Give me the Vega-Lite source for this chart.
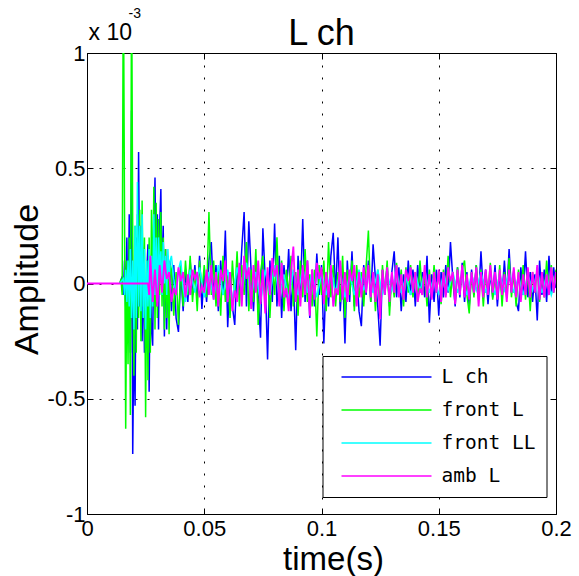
{
"$schema":"https://vega.github.io/schema/vega-lite/v6.json",
"width":469,"height":461,
"autosize":{"type":"none"},
"padding":{"left":87,"top":53,"right":23,"bottom":62},
"background":"white",
"title":{"text":"L ch","font":"Liberation Sans","fontSize":36,"fontWeight":"normal","color":"black","anchor":"middle","offset":10,"dy":57},
"config":{
 "view":{"stroke":"black","strokeWidth":1},
 "axis":{"domain":false,"tickColor":"black","tickSize":-6,"labelColor":"black","labelFont":"Liberation Sans","labelFontSize":22,"titleColor":"black","titleFont":"Liberation Sans","titleFontWeight":"normal","gridColor":"black","gridDash":[2,10],"gridOpacity":1,"labelFlush":false,"labelOverlap":false},
 "legend":{"orient":"none","legendX":235.5,"legendY":303,"direction":"vertical","title":null,"strokeColor":"black","fillColor":"white","padding":11,"symbolType":"stroke","symbolSize":8100,"symbolStrokeWidth":1.5,"symbolOffset":7,"labelOffset":9,"labelFont":"DejaVu Sans Mono","labelFontSize":19.5,"labelColor":"black","clipHeight":20,"rowPadding":13,"cornerRadius":0}
},
"datasets":{
"lch":[{"t":0.014,"v":0},{"t":0.015,"v":0.03},{"t":0.0155,"v":-0.05},{"t":0.016,"v":0.1},{"t":0.0165,"v":-0.1},{"t":0.017,"v":0.2},{"t":0.0175,"v":-0.2},{"t":0.018,"v":0.3},{"t":0.0185,"v":-0.3},{"t":0.019,"v":0.75},{"t":0.0195,"v":-0.74},{"t":0.02,"v":-0.2},{"t":0.0205,"v":-0.53},{"t":0.021,"v":0.2},{"t":0.0215,"v":-0.2},{"t":0.022,"v":0.57},{"t":0.0225,"v":-0.1},{"t":0.023,"v":0.25},{"t":0.0235,"v":-0.25},{"t":0.024,"v":0.1},{"t":0.0245,"v":-0.3},{"t":0.025,"v":-0.2},{"t":0.0255,"v":0.05},{"t":0.026,"v":0.17},{"t":0.0265,"v":-0.47},{"t":0.027,"v":0.1},{"t":0.0275,"v":-0.2},{"t":0.028,"v":-0.27},{"t":0.0285,"v":0.2},{"t":0.029,"v":0.46},{"t":0.0295,"v":-0.1},{"t":0.03,"v":0.3},{"t":0.0305,"v":-0.2},{"t":0.031,"v":0.25},{"t":0.0315,"v":0.41},{"t":0.032,"v":-0.05},{"t":0.0325,"v":0.25},{"t":0.033,"v":-0.23},{"t":0.0335,"v":0.15},{"t":0.034,"v":-0.2},{"t":0.0345,"v":0.12},{"t":0.035,"v":-0.15},{"t":0.0355,"v":0.1},
{"t":0.036,"v":-0.12},{"t":0.037,"v":0.08},{"t":0.038,"v":-0.15},{"t":0.039,"v":-0.21},{"t":0.04,"v":0.05},{"t":0.041,"v":-0.12},{"t":0.042,"v":0.06},{"t":0.043,"v":-0.08},{"t":0.044,"v":0.1},{"t":0.045,"v":-0.05},{"t":0.046,"v":0.08},{"t":0.047,"v":-0.06},{"t":0.048,"v":0.12},{"t":0.049,"v":-0.11},{"t":0.05,"v":0.05},{"t":0.051,"v":-0.08},{"t":0.052,"v":0.1},{"t":0.053,"v":0.18},{"t":0.054,"v":-0.06},{"t":0.055,"v":0.08},{"t":0.056,"v":-0.12},{"t":0.057,"v":0.1},{"t":0.058,"v":-0.05},{"t":0.059,"v":0.23},{"t":0.06,"v":-0.19},{"t":0.061,"v":0.05},{"t":0.062,"v":-0.1},{"t":0.063,"v":-0.18},{"t":0.064,"v":0.08},{"t":0.065,"v":-0.05},{"t":0.066,"v":0.15},{"t":0.067,"v":0.31},{"t":0.068,"v":-0.1},{"t":0.069,"v":0.27},{"t":0.07,"v":0.05},{"t":0.071,"v":-0.12},{"t":0.072,"v":0.1},{"t":0.073,"v":-0.05},{"t":0.074,"v":-0.235},{"t":0.075,"v":0.24},{"t":0.076,"v":0.02},{"t":0.077,"v":-0.33},{"t":0.078,"v":0.1},{"t":0.079,"v":-0.08},{"t":0.08,"v":0.26},{"t":0.081,"v":-0.1},{"t":0.082,"v":0.12},{"t":0.083,"v":-0.15},{"t":0.084,"v":0.08},{"t":0.085,"v":-0.06},{"t":0.086,"v":0.15},{"t":0.087,"v":-0.12},{"t":0.088,"v":0.05},{"t":0.089,"v":-0.29},{"t":0.09,"v":0.12},{"t":0.091,"v":-0.05},{"t":0.092,"v":0.28},{"t":0.093,"v":-0.08},{"t":0.094,"v":0.1},{"t":0.095,"v":-0.15},{"t":0.096,"v":0.06},{"t":0.097,"v":-0.1},{"t":0.098,"v":0.13},{"t":0.099,"v":-0.05},{"t":0.1,"v":0.08},{"t":0.101,"v":-0.26},{"t":0.102,"v":0.05},{"t":0.103,"v":-0.1},{"t":0.104,"v":0.12},{"t":0.105,"v":0.22},{"t":0.106,"v":-0.05},{"t":0.107,"v":0.2},{"t":0.108,"v":-0.12},{"t":0.109,"v":0.06},{"t":0.11,"v":-0.26},{"t":0.111,"v":0.1},{"t":0.112,"v":-0.08},{"t":0.113,"v":0.14},{"t":0.114,"v":-0.1},{"t":0.115,"v":0.05},{"t":0.116,"v":-0.12},{"t":0.117,"v":-0.185},{"t":0.118,"v":0.08},{"t":0.119,"v":-0.05},{"t":0.12,"v":0.1},{"t":0.121,"v":-0.08},{"t":0.122,"v":0.17},{"t":0.123,"v":0.02},{"t":0.124,"v":-0.1},{"t":0.125,"v":-0.27},{"t":0.126,"v":0.06},{"t":0.127,"v":-0.05},{"t":0.128,"v":0.08},{"t":0.129,"v":-0.1},{"t":0.13,"v":0.05},{"t":0.131,"v":0.14},{"t":0.132,"v":-0.06},{"t":0.133,"v":0.07},{"t":0.134,"v":-0.12},{"t":0.135,"v":0.04},{"t":0.136,"v":-0.08},{"t":0.137,"v":0.1},{"t":0.138,"v":-0.05},{"t":0.139,"v":0.06},{"t":0.14,"v":-0.1},{"t":0.141,"v":0.08},{"t":0.142,"v":-0.04},{"t":0.143,"v":0.05},{"t":0.144,"v":-0.06},{"t":0.145,"v":0.12},{"t":0.146,"v":-0.17},{"t":0.147,"v":0.04},{"t":0.148,"v":-0.08},{"t":0.149,"v":0.06},{"t":0.15,"v":-0.14},{"t":0.151,"v":0.05},{"t":0.152,"v":-0.06},{"t":0.153,"v":0.08},{"t":0.154,"v":-0.04},{"t":0.155,"v":0.18},{"t":0.156,"v":0.02},{"t":0.157,"v":-0.1},{"t":0.158,"v":0.07},{"t":0.159,"v":-0.06},{"t":0.16,"v":0.09},{"t":0.161,"v":-0.08},{"t":0.162,"v":0.05},{"t":0.163,"v":-0.1},{"t":0.164,"v":0.06},{"t":0.165,"v":-0.05},{"t":0.166,"v":0.08},{"t":0.167,"v":-0.07},{"t":0.168,"v":0.14},{"t":0.169,"v":-0.04},{"t":0.17,"v":0.06},{"t":0.171,"v":-0.09},{"t":0.172,"v":0.05},{"t":0.173,"v":-0.06},{"t":0.174,"v":0.08},{"t":0.175,"v":-0.1},{"t":0.176,"v":0.04},{"t":0.177,"v":-0.05},{"t":0.178,"v":0.1},{"t":0.179,"v":-0.06},{"t":0.18,"v":0.15},{"t":0.181,"v":-0.04},{"t":0.182,"v":0.06},{"t":0.183,"v":-0.08},{"t":0.184,"v":-0.12},{"t":0.185,"v":0.07},{"t":0.186,"v":-0.05},{"t":0.187,"v":0.14},{"t":0.188,"v":-0.06},{"t":0.189,"v":0.05},{"t":0.19,"v":-0.08},{"t":0.191,"v":0.04},{"t":0.192,"v":-0.16},{"t":0.193,"v":0.1},{"t":0.194,"v":-0.05},{"t":0.195,"v":0.06},{"t":0.196,"v":-0.08},{"t":0.197,"v":0.12},{"t":0.198,"v":-0.04},{"t":0.199,"v":0.07},{"t":0.2,"v":-0.02}],
"frontL":[{"t":0.014,"v":0},{"t":0.0145,"v":0.02},{"t":0.015,"v":-0.05},{"t":0.0155,"v":1.4},{"t":0.016,"v":0.3},{"t":0.0165,"v":-0.63},{"t":0.017,"v":0.1},{"t":0.0175,"v":-0.35},{"t":0.018,"v":0.2},{"t":0.0185,"v":-0.57},{"t":0.019,"v":1.4},{"t":0.0195,"v":0.2},{"t":0.02,"v":-0.4},{"t":0.0205,"v":0.25},{"t":0.021,"v":-0.3},{"t":0.0215,"v":0.3},{"t":0.022,"v":-0.15},{"t":0.0225,"v":0.32},{"t":0.023,"v":-0.25},{"t":0.0235,"v":0.36},{"t":0.024,"v":-0.1},{"t":0.0245,"v":0.2},{"t":0.025,"v":-0.58},{"t":0.0255,"v":0.1},{"t":0.026,"v":-0.42},{"t":0.0265,"v":0.2},{"t":0.027,"v":-0.3},{"t":0.0275,"v":0.32},{"t":0.028,"v":-0.1},{"t":0.0285,"v":0.42},{"t":0.029,"v":-0.2},{"t":0.0295,"v":0.35},{"t":0.03,"v":-0.15},{"t":0.0305,"v":0.28},{"t":0.031,"v":-0.05},{"t":0.0315,"v":0.31},{"t":0.032,"v":-0.1},{"t":0.0325,"v":0.2},{"t":0.033,"v":-0.2},{"t":0.0335,"v":0.15},{"t":0.034,"v":-0.15},{"t":0.0345,"v":0.1},{"t":0.035,"v":-0.22},{"t":0.0355,"v":0.08},
{"t":0.036,"v":0.06},{"t":0.037,"v":-0.14},{"t":0.038,"v":0.05},{"t":0.039,"v":-0.18},{"t":0.04,"v":0.08},{"t":0.041,"v":-0.1},{"t":0.042,"v":0.1},{"t":0.043,"v":-0.05},{"t":0.044,"v":0.12},{"t":0.045,"v":-0.08},{"t":0.046,"v":0.06},{"t":0.047,"v":-0.12},{"t":0.048,"v":0.1},{"t":0.049,"v":-0.04},{"t":0.05,"v":0.08},{"t":0.051,"v":-0.06},{"t":0.052,"v":0.31},{"t":0.053,"v":-0.05},{"t":0.054,"v":0.1},{"t":0.055,"v":-0.1},{"t":0.056,"v":0.06},{"t":0.057,"v":-0.14},{"t":0.058,"v":0.12},{"t":0.059,"v":-0.08},{"t":0.06,"v":0.05},{"t":0.061,"v":-0.15},{"t":0.062,"v":0.1},{"t":0.063,"v":-0.06},{"t":0.064,"v":0.14},{"t":0.065,"v":-0.1},{"t":0.066,"v":0.08},{"t":0.067,"v":-0.05},{"t":0.068,"v":0.18},{"t":0.069,"v":-0.12},{"t":0.07,"v":0.06},{"t":0.071,"v":-0.08},{"t":0.072,"v":0.15},{"t":0.073,"v":-0.18},{"t":0.074,"v":0.05},{"t":0.075,"v":0.12},{"t":0.076,"v":-0.1},{"t":0.077,"v":0.04},{"t":0.078,"v":-0.15},{"t":0.079,"v":0.08},{"t":0.08,"v":-0.05},{"t":0.081,"v":0.2},{"t":0.082,"v":-0.08},{"t":0.083,"v":0.1},{"t":0.084,"v":-0.12},{"t":0.085,"v":0.06},{"t":0.086,"v":-0.05},{"t":0.087,"v":0.12},{"t":0.088,"v":-0.1},{"t":0.089,"v":0.05},{"t":0.09,"v":-0.14},{"t":0.091,"v":0.1},{"t":0.092,"v":-0.06},{"t":0.093,"v":0.15},{"t":0.094,"v":-0.08},{"t":0.095,"v":0.04},{"t":0.096,"v":-0.1},{"t":0.097,"v":0.06},{"t":0.098,"v":-0.23},{"t":0.099,"v":0.08},{"t":0.1,"v":-0.05},{"t":0.101,"v":0.1},{"t":0.102,"v":-0.12},{"t":0.103,"v":0.18},{"t":0.104,"v":-0.06},{"t":0.105,"v":0.08},{"t":0.106,"v":-0.1},{"t":0.107,"v":0.05},{"t":0.108,"v":-0.08},{"t":0.109,"v":0.12},{"t":0.11,"v":-0.15},{"t":0.111,"v":0.06},{"t":0.112,"v":-0.05},{"t":0.113,"v":0.1},{"t":0.114,"v":-0.12},{"t":0.115,"v":0.08},{"t":0.116,"v":-0.06},{"t":0.117,"v":0.05},{"t":0.118,"v":-0.1},{"t":0.119,"v":0.07},{"t":0.12,"v":0.23},{"t":0.121,"v":-0.08},{"t":0.122,"v":0.05},{"t":0.123,"v":-0.12},{"t":0.124,"v":0.06},{"t":0.125,"v":-0.1},{"t":0.126,"v":0.08},{"t":0.127,"v":-0.05},{"t":0.128,"v":0.1},{"t":0.129,"v":-0.14},{"t":0.13,"v":0.04},{"t":0.131,"v":-0.06},{"t":0.132,"v":0.09},{"t":0.133,"v":-0.05},{"t":0.134,"v":0.06},{"t":0.135,"v":-0.1},{"t":0.136,"v":0.07},{"t":0.137,"v":-0.04},{"t":0.138,"v":0.08},{"t":0.139,"v":-0.06},{"t":0.14,"v":0.05},{"t":0.141,"v":-0.08},{"t":0.142,"v":0.1},{"t":0.143,"v":-0.05},{"t":0.144,"v":0.04},{"t":0.145,"v":-0.1},{"t":0.146,"v":0.06},{"t":0.147,"v":-0.06},{"t":0.148,"v":0.08},{"t":0.149,"v":-0.04},{"t":0.15,"v":0.05},{"t":0.151,"v":-0.09},{"t":0.152,"v":0.06},{"t":0.153,"v":-0.05},{"t":0.154,"v":0.12},{"t":0.155,"v":-0.06},{"t":0.156,"v":0.05},{"t":0.157,"v":-0.08},{"t":0.158,"v":0.07},{"t":0.159,"v":-0.04},{"t":0.16,"v":0.06},{"t":0.161,"v":0.1},{"t":0.162,"v":-0.05},{"t":0.163,"v":-0.13},{"t":0.164,"v":0.05},{"t":0.165,"v":-0.06},{"t":0.166,"v":0.08},{"t":0.167,"v":-0.05},{"t":0.168,"v":0.06},{"t":0.169,"v":-0.1},{"t":0.17,"v":0.05},{"t":0.171,"v":-0.04},{"t":0.172,"v":0.09},{"t":0.173,"v":-0.07},{"t":0.174,"v":0.04},{"t":0.175,"v":-0.06},{"t":0.176,"v":0.08},{"t":0.177,"v":-0.1},{"t":0.178,"v":0.05},{"t":0.179,"v":-0.04},{"t":0.18,"v":0.11},{"t":0.181,"v":-0.06},{"t":0.182,"v":0.05},{"t":0.183,"v":-0.1},{"t":0.184,"v":0.06},{"t":0.185,"v":-0.05},{"t":0.186,"v":0.08},{"t":0.187,"v":-0.07},{"t":0.188,"v":0.06},{"t":0.189,"v":-0.12},{"t":0.19,"v":0.05},{"t":0.191,"v":-0.04},{"t":0.192,"v":0.07},{"t":0.193,"v":-0.08},{"t":0.194,"v":0.05},{"t":0.195,"v":-0.06},{"t":0.196,"v":0.1},{"t":0.197,"v":-0.05},{"t":0.198,"v":0.08},{"t":0.199,"v":-0.04},{"t":0.2,"v":0.06}],
"frontLL":[{"t":0.014,"v":0},{"t":0.0155,"v":0.02},{"t":0.016,"v":-0.05},{"t":0.0165,"v":0.06},{"t":0.017,"v":-0.08},{"t":0.0175,"v":0.1},{"t":0.018,"v":-0.1},{"t":0.0185,"v":0.15},{"t":0.019,"v":-0.15},{"t":0.0195,"v":0.1},{"t":0.02,"v":-0.2},{"t":0.0205,"v":0.25},{"t":0.021,"v":-0.15},{"t":0.0215,"v":0.44},{"t":0.022,"v":-0.1},{"t":0.0225,"v":0.25},{"t":0.023,"v":-0.12},{"t":0.0235,"v":0.3},{"t":0.024,"v":-0.15},{"t":0.0245,"v":0.15},{"t":0.025,"v":-0.2},{"t":0.0255,"v":0.1},{"t":0.026,"v":-0.1},{"t":0.0265,"v":0.15},{"t":0.027,"v":-0.15},{"t":0.0275,"v":0.12},{"t":0.028,"v":-0.1},{"t":0.0285,"v":0.3},{"t":0.029,"v":-0.05},{"t":0.0295,"v":0.2},{"t":0.03,"v":-0.08},{"t":0.0305,"v":0.2},{"t":0.031,"v":0.05},{"t":0.0315,"v":0.14},{"t":0.032,"v":-0.05},{"t":0.0325,"v":0.18},{"t":0.033,"v":0},{"t":0.0335,"v":0.12},{"t":0.034,"v":-0.05},{"t":0.0345,"v":0.15},{"t":0.035,"v":0.02},{"t":0.0355,"v":0.1},
{"t":0.036,"v":0.12},{"t":0.037,"v":0.02},{"t":0.038,"v":-0.05},{"t":0.039,"v":0.06},{"t":0.04,"v":0.1},{"t":0.041,"v":-0.02},{"t":0.042,"v":-0.08},{"t":0.044,"v":0.06},{"t":0.046,"v":-0.04},{"t":0.048,"v":0.07},{"t":0.05,"v":-0.06},{"t":0.052,"v":0.05},{"t":0.054,"v":-0.07},{"t":0.056,"v":0.08},{"t":0.058,"v":-0.05},{"t":0.06,"v":0.06},{"t":0.062,"v":-0.08},{"t":0.064,"v":0.07},{"t":0.066,"v":-0.04},{"t":0.068,"v":0.09},{"t":0.07,"v":-0.06},{"t":0.072,"v":0.05},{"t":0.074,"v":-0.08},{"t":0.076,"v":0.06},{"t":0.078,"v":-0.05},{"t":0.08,"v":0.08},{"t":0.082,"v":-0.06},{"t":0.084,"v":0.04},{"t":0.086,"v":-0.07},{"t":0.088,"v":0.06},{"t":0.09,"v":-0.05},{"t":0.092,"v":0.07},{"t":0.094,"v":-0.04},{"t":0.096,"v":0.05},{"t":0.098,"v":-0.06},{"t":0.1,"v":0.04},{"t":0.102,"v":-0.05},{"t":0.104,"v":0.06},{"t":0.106,"v":-0.04},{"t":0.108,"v":0.05},{"t":0.11,"v":-0.06},{"t":0.112,"v":0.04},{"t":0.114,"v":-0.05},{"t":0.116,"v":0.06},{"t":0.118,"v":-0.03},{"t":0.12,"v":0.05},{"t":0.122,"v":-0.04},{"t":0.124,"v":0.06},{"t":0.126,"v":-0.05},{"t":0.128,"v":0.04},{"t":0.13,"v":-0.03},{"t":0.132,"v":0.05},{"t":0.134,"v":-0.04},{"t":0.136,"v":0.03},{"t":0.138,"v":-0.05},{"t":0.14,"v":0.04},{"t":0.142,"v":-0.03},{"t":0.144,"v":0.05},{"t":0.146,"v":-0.04},{"t":0.148,"v":0.03},{"t":0.15,"v":-0.05},{"t":0.152,"v":0.04},{"t":0.154,"v":-0.03},{"t":0.156,"v":0.05},{"t":0.158,"v":-0.04},{"t":0.16,"v":0.03},{"t":0.162,"v":-0.05},{"t":0.164,"v":0.04},{"t":0.166,"v":-0.03},{"t":0.168,"v":0.05},{"t":0.17,"v":-0.04},{"t":0.172,"v":0.03},{"t":0.174,"v":-0.05},{"t":0.176,"v":0.04},{"t":0.178,"v":-0.03},{"t":0.18,"v":0.05},{"t":0.182,"v":-0.04},{"t":0.184,"v":0.03},{"t":0.186,"v":-0.05},{"t":0.188,"v":0.04},{"t":0.19,"v":-0.03},{"t":0.192,"v":0.05},{"t":0.194,"v":-0.04},{"t":0.196,"v":0.03},{"t":0.198,"v":-0.05},{"t":0.2,"v":0.02}],
"ambL":[{"t":0,"v":0},{"t":0.026,"v":0},{"t":0.0265,"v":-0.05},{"t":0.027,"v":0.12},{"t":0.028,"v":-0.08},{"t":0.029,"v":0.06},{"t":0.03,"v":-0.1},{"t":0.031,"v":0.08},{"t":0.032,"v":-0.04},{"t":0.033,"v":0.1},{"t":0.034,"v":0.02},{"t":0.035,"v":0.05},{"t":0.036,"v":-0.08},{"t":0.037,"v":-0.02},{"t":0.038,"v":-0.05},{"t":0.039,"v":0.07},{"t":0.04,"v":0.01},{"t":0.041,"v":0.05},{"t":0.042,"v":-0.06},{"t":0.043,"v":0.04},{"t":0.044,"v":-0.05},{"t":0.045,"v":0.06},{"t":0.046,"v":0.02},{"t":0.047,"v":0.05},{"t":0.048,"v":-0.06},{"t":0.049,"v":-0.01},{"t":0.05,"v":-0.04},{"t":0.051,"v":0.06},{"t":0.052,"v":-0.05},{"t":0.053,"v":0.08},{"t":0.054,"v":-0.07},{"t":0.055,"v":0.05},{"t":0.056,"v":-0.1},{"t":0.057,"v":0.06},{"t":0.058,"v":0.01},{"t":0.059,"v":0.1},{"t":0.06,"v":-0.08},{"t":0.061,"v":0.05},{"t":0.062,"v":-0.12},{"t":0.063,"v":-0.03},{"t":0.064,"v":-0.08},{"t":0.065,"v":0.09},{"t":0.066,"v":-0.1},{"t":0.067,"v":0.12},{"t":0.068,"v":0.02},{"t":0.069,"v":0.07},{"t":0.07,"v":-0.11},{"t":0.071,"v":0.08},{"t":0.072,"v":-0.04},{"t":0.073,"v":0.1},{"t":0.074,"v":-0.09},{"t":0.075,"v":0.06},{"t":0.076,"v":-0.13},{"t":0.077,"v":0.07},{"t":0.078,"v":-0.05},{"t":0.079,"v":0.11},{"t":0.08,"v":0.03},{"t":0.081,"v":0.08},{"t":0.082,"v":-0.1},{"t":0.083,"v":0.09},{"t":0.084,"v":-0.06},{"t":0.085,"v":-0.02},{"t":0.086,"v":-0.12},{"t":0.087,"v":0.05},{"t":0.088,"v":0.16},{"t":0.089,"v":-0.08},{"t":0.09,"v":0.06},{"t":0.091,"v":-0.1},{"t":0.092,"v":0.08},{"t":0.093,"v":-0.05},{"t":0.094,"v":0.1},{"t":0.095,"v":-0.14},{"t":0.096,"v":0.06},{"t":0.097,"v":-0.07},{"t":0.098,"v":0.09},{"t":0.099,"v":0.02},{"t":0.1,"v":0.07},{"t":0.101,"v":-0.09},{"t":0.102,"v":0.05},{"t":0.103,"v":-0.06},{"t":0.104,"v":0.08},{"t":0.105,"v":-0.1},{"t":0.106,"v":-0.02},{"t":0.107,"v":-0.05},{"t":0.108,"v":0.1},{"t":0.109,"v":-0.07},{"t":0.11,"v":0.05},{"t":0.111,"v":-0.08},{"t":0.112,"v":0.06},{"t":0.113,"v":0.01},{"t":0.114,"v":0.08},{"t":0.115,"v":-0.1},{"t":0.116,"v":0.05},{"t":0.117,"v":-0.06},{"t":0.118,"v":0.07},{"t":0.119,"v":-0.04},{"t":0.12,"v":0.08},{"t":0.121,"v":-0.06},{"t":0.122,"v":0.05},{"t":0.123,"v":-0.08},{"t":0.124,"v":0.04},{"t":0.125,"v":-0.155},{"t":0.126,"v":0.06},{"t":0.127,"v":-0.05},{"t":0.128,"v":0.07},{"t":0.129,"v":-0.08},{"t":0.13,"v":0.05},{"t":0.131,"v":-0.04},{"t":0.132,"v":0.08},{"t":0.133,"v":-0.06},{"t":0.134,"v":0.04},{"t":0.135,"v":-0.07},{"t":0.136,"v":0.06},{"t":0.137,"v":0.01},{"t":0.138,"v":0.07},{"t":0.139,"v":-0.04},{"t":0.14,"v":0.05},{"t":0.141,"v":-0.08},{"t":0.142,"v":-0.02},{"t":0.143,"v":-0.05},{"t":0.144,"v":0.08},{"t":0.145,"v":-0.06},{"t":0.146,"v":0.04},{"t":0.147,"v":-0.07},{"t":0.148,"v":0.05},{"t":0.149,"v":-0.04},{"t":0.15,"v":0.06},{"t":0.151,"v":-0.08},{"t":0.152,"v":0.05},{"t":0.153,"v":-0.06},{"t":0.154,"v":0.07},{"t":0.155,"v":0.01},{"t":0.156,"v":0.05},{"t":0.157,"v":-0.09},{"t":0.158,"v":0.06},{"t":0.159,"v":-0.05},{"t":0.16,"v":0.08},{"t":0.161,"v":-0.06},{"t":0.162,"v":0.04},{"t":0.163,"v":-0.07},{"t":0.164,"v":0.05},{"t":0.165,"v":-0.04},{"t":0.166,"v":0.07},{"t":0.167,"v":-0.1},{"t":0.168,"v":0.05},{"t":0.169,"v":-0.06},{"t":0.17,"v":0.06},{"t":0.171,"v":-0.05},{"t":0.172,"v":0.08},{"t":0.173,"v":-0.04},{"t":0.174,"v":0.05},{"t":0.175,"v":-0.07},{"t":0.176,"v":0.06},{"t":0.177,"v":-0.05},{"t":0.178,"v":0.04},{"t":0.179,"v":-0.08},{"t":0.18,"v":0.06},{"t":0.181,"v":-0.04},{"t":0.182,"v":0.07},{"t":0.183,"v":-0.06},{"t":0.184,"v":0.05},{"t":0.185,"v":-0.08},{"t":0.186,"v":0.04},{"t":0.187,"v":-0.05},{"t":0.188,"v":0.07},{"t":0.189,"v":-0.06},{"t":0.19,"v":0.05},{"t":0.191,"v":-0.04},{"t":0.192,"v":0.08},{"t":0.193,"v":-0.07},{"t":0.194,"v":0.05},{"t":0.195,"v":-0.06},{"t":0.196,"v":0.04},{"t":0.197,"v":-0.05},{"t":0.198,"v":0.07},{"t":0.199,"v":-0.04},{"t":0.2,"v":0.05}]
},
"layer":[
 {"data":{"name":"lch"},"mark":{"type":"line","clip":true,"strokeWidth":1.5},
  "encoding":{
   "x":{"field":"t","type":"quantitative","scale":{"domain":[0,0.2],"nice":false,"zero":false},
        "axis":{"orient":"bottom","values":[0,0.05,0.1,0.15,0.2],"labelExpr":"datum.value + ''","grid":true,"labelPadding":10,"title":"time(s)","titleFontSize":33,"titlePadding":4,"titleX":246,"titleAlign":"center"}},
   "y":{"field":"v","type":"quantitative","scale":{"domain":[-1,1],"nice":false,"zero":false},
        "axis":{"orient":"left","values":[-1,-0.5,0,0.5,1],"labelExpr":"datum.value + ''","grid":true,"labelPadding":8,"title":"Amplitude","titleFontSize":34,"titleAngle":-90,"titleX":-60,"titleY":226,"titleBaseline":"middle","titleAlign":"center"}},
   "color":{"datum":"L ch","type":"nominal","scale":{"domain":["L ch","front L","front LL","amb L"],"range":["#0000ff","#00ff00","#00ffff","#ff00ff"]}}
  }},
 {"data":{"name":"frontL"},"mark":{"type":"line","clip":true,"strokeWidth":1.5},
  "encoding":{
   "x":{"field":"t","type":"quantitative","axis":null},
   "y":{"field":"v","type":"quantitative","axis":null},
   "color":{"datum":"front L","type":"nominal"}
  }},
 {"data":{"name":"frontLL"},"mark":{"type":"line","clip":true,"strokeWidth":1.5},
  "encoding":{
   "x":{"field":"t","type":"quantitative","axis":null},
   "y":{"field":"v","type":"quantitative","axis":null},
   "color":{"datum":"front LL","type":"nominal"}
  }},
 {"data":{"name":"ambL"},"mark":{"type":"line","clip":true,"strokeWidth":1.8},
  "encoding":{
   "x":{"field":"t","type":"quantitative","axis":null},
   "y":{"field":"v","type":"quantitative","axis":null},
   "color":{"datum":"amb L","type":"nominal"}
  }},
 {"data":{"name":"ambL"},"mark":{"type":"line","clip":true,"opacity":0},
  "encoding":{
   "x":{"field":"t","type":"quantitative",
        "axis":{"orient":"top","values":[0,0.05,0.1,0.15,0.2],"labels":false,"grid":false,"title":"x 10","titleFontSize":23,"titleAnchor":"start","titleAlign":"left","titleX":1,"titleY":-14,"titleBaseline":"alphabetic"}},
   "y":{"field":"v","type":"quantitative",
        "axis":{"orient":"right","values":[-1,-0.5,0,0.5,1],"labels":false,"grid":false,"title":"-3","titleFontSize":14,"titleAngle":0,"titleAlign":"left","titleBaseline":"alphabetic","titleX":-428,"titleY":-36}}
  }}
],
"resolve":{"axis":{"x":"independent","y":"independent"}}
}
